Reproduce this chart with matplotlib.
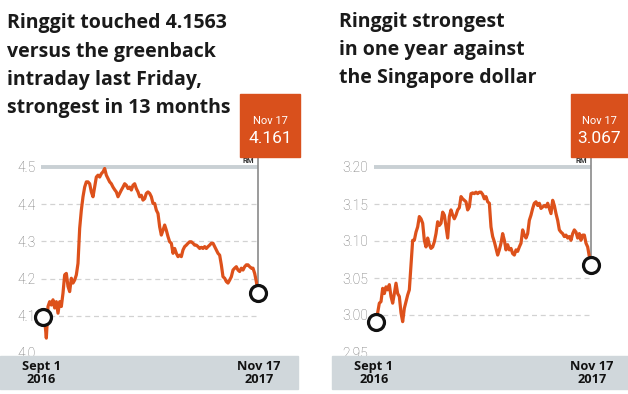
import matplotlib
matplotlib.use("Agg")
import matplotlib.pyplot as plt
from matplotlib.patches import Rectangle

plt.rcParams['font.family'] = ['Roboto', 'DejaVu Sans']

# USD/MYR, Sept 1 2016 - Nov 17 2017
usd_myr = [4.098, 4.089, 4.040, 4.125, 4.138, 4.129, 4.143, 4.121, 4.138, 4.107,
           4.138, 4.125, 4.161, 4.210, 4.214, 4.179, 4.165, 4.201, 4.188, 4.196,
           4.210, 4.241, 4.335, 4.384, 4.420, 4.446, 4.460, 4.460, 4.455, 4.433,
           4.420, 4.446, 4.473, 4.478, 4.473, 4.482, 4.487, 4.496, 4.478, 4.469,
           4.460, 4.455, 4.446, 4.439, 4.433, 4.420, 4.429, 4.438, 4.446, 4.455,
           4.451, 4.442, 4.446, 4.438, 4.451, 4.455, 4.442, 4.433, 4.420, 4.424,
           4.411, 4.415, 4.429, 4.433, 4.429, 4.420, 4.402, 4.402, 4.384, 4.375,
           4.339, 4.317, 4.330, 4.344, 4.330, 4.313, 4.299, 4.295, 4.268, 4.281,
           4.268, 4.259, 4.263, 4.259, 4.277, 4.286, 4.290, 4.295, 4.299, 4.299,
           4.295, 4.290, 4.290, 4.286, 4.281, 4.284, 4.281, 4.286, 4.281, 4.286,
           4.290, 4.295, 4.295, 4.286, 4.277, 4.268, 4.263, 4.237, 4.205, 4.201,
           4.192, 4.188, 4.196, 4.205, 4.223, 4.228, 4.232, 4.223, 4.219, 4.228,
           4.223, 4.232, 4.237, 4.237, 4.232, 4.228, 4.228, 4.214, 4.192, 4.161]

# SGD/MYR, same period
sgd_myr = [2.991, 3.003, 3.016, 3.018, 3.036, 3.029, 3.038, 3.034, 3.041, 3.025,
           3.016, 3.029, 3.043, 3.029, 3.025, 3.003, 2.991, 3.009, 3.018, 3.027,
           3.034, 3.068, 3.101, 3.101, 3.112, 3.119, 3.133, 3.130, 3.124, 3.101,
           3.092, 3.104, 3.095, 3.090, 3.092, 3.099, 3.110, 3.126, 3.121, 3.124,
           3.139, 3.135, 3.119, 3.104, 3.133, 3.142, 3.135, 3.130, 3.135, 3.142,
           3.145, 3.160, 3.157, 3.155, 3.153, 3.142, 3.146, 3.164, 3.165, 3.164,
           3.166, 3.164, 3.166, 3.166, 3.163, 3.157, 3.160, 3.153, 3.151, 3.119,
           3.106, 3.099, 3.090, 3.081, 3.088, 3.097, 3.110, 3.101, 3.088, 3.095,
           3.088, 3.090, 3.083, 3.081, 3.088, 3.086, 3.092, 3.097, 3.115, 3.108,
           3.104, 3.110, 3.128, 3.135, 3.144, 3.151, 3.153, 3.148, 3.151, 3.144,
           3.146, 3.148, 3.146, 3.151, 3.144, 3.137, 3.155, 3.148, 3.137, 3.128,
           3.115, 3.112, 3.110, 3.106, 3.108, 3.104, 3.106, 3.101, 3.110, 3.115,
           3.112, 3.104, 3.110, 3.101, 3.108, 3.108, 3.097, 3.092, 3.079, 3.067]

usd_ticks = [4.0, 4.1, 4.2, 4.3, 4.4, 4.5]
usd_labels = ['4.0', '4.1', '4.2', '4.3', '4.4', '4.5']
sgd_ticks = [2.95, 3.00, 3.05, 3.10, 3.15, 3.20]
sgd_labels = ['2.95', '3.00', '3.05', '3.10', '3.15', '3.20']

titles = [["Ringgit touched 4.1563", "versus the greenback",
           "intraday last Friday,", "strongest in 13 months"],
          ["Ringgit strongest", "in one year against",
           "the Singapore dollar"]]
latest = ["4.161", "3.067"]
latest_date = "Nov 17"
start_label = "Sept 1\n2016"
end_label = "Nov 17\n2017"

W, H = 628, 394
ORANGE = '#dd511b'
BOX = '#d9501c'
BAND = '#d0d7db'
TOPLINE = '#c9d0d4'
HEAD = ['Open Sans', 'DejaVu Sans']

fig = plt.figure(figsize=(W / 100, H / 100), dpi=100)


def fx(px):
    return px / W


def fy(py):
    return 1 - py / H


panels = [
    dict(vals=usd_myr, ticks=usd_ticks, labels=usd_labels,
         x0=43, x1=258, ytop=167, ybot=353, gx0=41,
         band=(0, 298), box=(240, 300), title_x=7, title_y=[28, 56.5, 85, 113.5],
         tpad=5),
    dict(vals=sgd_myr, ticks=sgd_ticks, labels=sgd_labels,
         x0=376, x1=591, ytop=167, ybot=352, gx0=374,
         band=(332, 628), box=(571, 628), title_x=339, title_y=[27, 55, 83.5],
         tpad=6),
]

for i, p in enumerate(panels):
    vals = p['vals']
    n = len(vals)
    ax = fig.add_axes([fx(p['x0']), fy(p['ybot']), fx(p['x1'] - p['x0']),
                       (p['ybot'] - p['ytop']) / H])
    lo, hi = p['ticks'][0], p['ticks'][-1]
    ax.set_xlim(0, n - 1)
    ax.set_ylim(lo, hi)
    for s in ax.spines.values():
        s.set_visible(False)
    ax.set_xticks([])
    ax.set_yticks(p['ticks'])
    ax.set_yticklabels(p['labels'])
    ax.tick_params(axis='y', length=0, pad=p['tpad'], labelsize=10,
                   labelcolor='#707070')
    for lab in ax.get_yticklabels():
        lab.set_fontweight('light')

    # gridlines
    xstart = -(p['x0'] - p['gx0']) / (p['x1'] - p['x0']) * (n - 1)
    for t in p['ticks'][1:-1]:
        ax.plot([xstart, n - 1], [t, t], color='#d2d2d2', lw=0.9,
                ls=(0, (4, 3)), clip_on=False, zorder=1)
    ax.plot([xstart, n - 1], [hi, hi], color=TOPLINE, lw=2.8,
            clip_on=False, zorder=1, solid_capstyle='butt')

    # RM marker line
    span = hi - lo
    ax.plot([n - 1, n - 1], [vals[-1], hi + span * 10 / (p['ybot'] - p['ytop'])],
            color='#8a8a8a', lw=1.2, clip_on=False, zorder=2)
    ax.annotate('RM', xy=(n - 1, hi), xytext=(-3, 2), textcoords='offset points',
                ha='right', va='bottom', fontsize=5.5, fontweight='bold',
                color='#333333', annotation_clip=False)

    ax.plot(range(n), vals, color=ORANGE, lw=2.3, zorder=3, solid_joinstyle='round')
    ax.plot([0, n - 1], [vals[0], vals[-1]], ls='none', marker='o', ms=11.5,
            mfc='white', mec='#111111', mew=2.3, clip_on=False, zorder=5)

    # bottom band
    b0, b1 = p['band']
    fig.patches.append(Rectangle((fx(b0), fy(389)), fx(b1 - b0), 33 / H,
                                 transform=fig.transFigure, color=BAND, zorder=1))
    fig.text(fx(p['x0'] - 2), fy(373), start_label, ha='center', va='center',
             fontsize=9.2, fontweight='bold', color='#111111', linespacing=1.0,
             family=HEAD, zorder=2)
    fig.text(fx(p['x1'] + 1), fy(373), end_label, ha='center', va='center',
             fontsize=9.2, fontweight='bold', color='#111111', linespacing=1.0,
             family=HEAD, zorder=2)

    # orange box
    x0b, x1b = p['box']
    fig.patches.append(Rectangle((fx(x0b), fy(157)), fx(x1b - x0b), 63 / H,
                                 transform=fig.transFigure, color=BOX, zorder=1))
    cx = fx((x0b + x1b) / 2)
    fig.text(cx, fy(121), latest_date, ha='center', va='center', fontsize=8,
             color='white', zorder=2)
    fig.text(cx, fy(138), latest[i], ha='center', va='center', fontsize=12.5,
             color='white', zorder=2)

    # title
    for line, by in zip(titles[i], p['title_y']):
        fig.text(fx(p['title_x']), fy(by), line, ha='left', va='baseline',
                 fontsize=14, fontweight='bold', color='#1a1a1a', family=HEAD)

fig.savefig('out.png', dpi=100)
